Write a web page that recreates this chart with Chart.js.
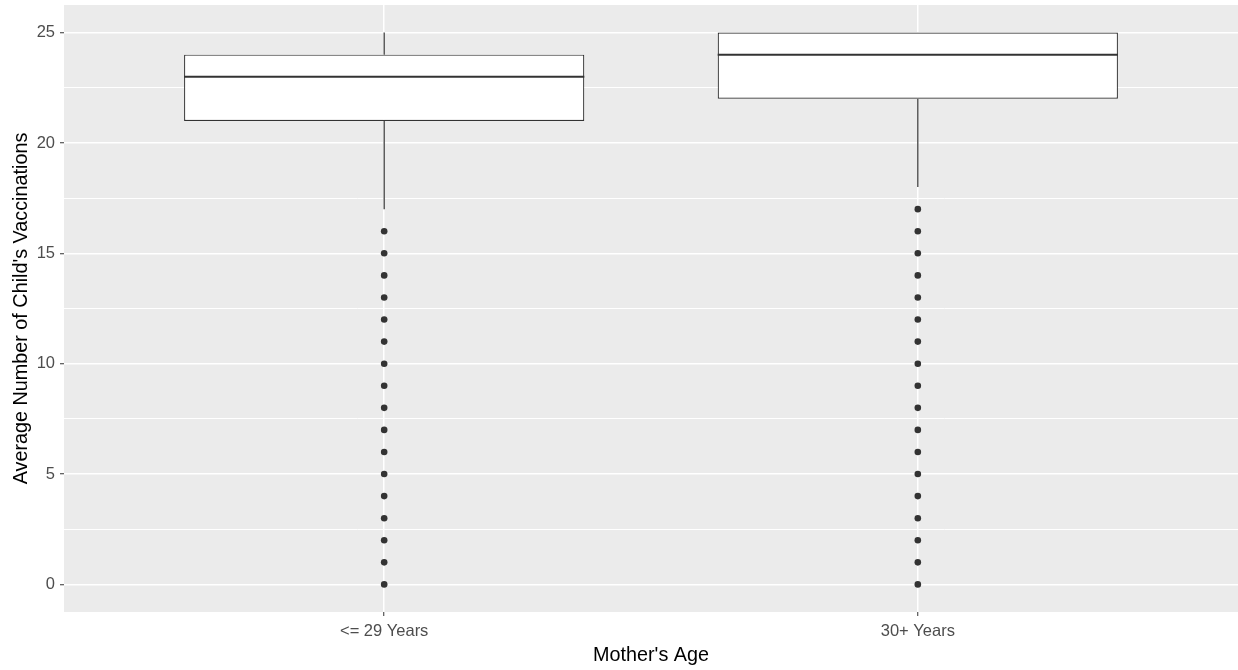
<!DOCTYPE html>
<html>
<head>
<meta charset="utf-8">
<script src="https://cdn.jsdelivr.net/npm/chart.js@4"></script>
<style>
  html, body { margin: 0; padding: 0; background: #ffffff; }
  #wrap { width: 1238px; height: 670px; }
</style>
</head>
<body>
<div id="wrap"><canvas id="boxChart" width="1238" height="670"></canvas></div>
<script>
// Data
const categories = ['<= 29 Years', '30+ Years'];
const q1 = [21, 22];
const median = [23, 24];
const q3 = [24, 25];
const whiskerLow = [17, 18];
const whiskerHigh = [25, 25];
const outliersYoung = [0, 1, 2, 3, 4, 5, 6, 7, 8, 9, 10, 11, 12, 13, 14, 15, 16];
const outliersOld = [0, 1, 2, 3, 4, 5, 6, 7, 8, 9, 10, 11, 12, 13, 14, 15, 16, 17];
const yTicks = [0, 2.5, 5, 7.5, 10, 12.5, 15, 17.5, 20, 22.5, 25];

const inkColor = '#333333';
const tickTextColor = '#4D4D4D';
const fontFamily = 'Liberation Sans, Arial, sans-serif';

// Grey panel background like ggplot
const panelBackground = {
    id: 'panelBackground',
    beforeDraw(chart) {
        const { ctx, chartArea } = chart;
        ctx.save();
        ctx.fillStyle = '#EBEBEB';
        ctx.fillRect(chartArea.left, chartArea.top, chartArea.right - chartArea.left, chartArea.bottom - chartArea.top);
        ctx.restore();
    }
};

// Median line across each box
const medianLines = {
    id: 'medianLines',
    afterDatasetsDraw(chart) {
        const meta = chart.getDatasetMeta(0);
        const yScale = chart.scales.y;
        const ctx = chart.ctx;
        ctx.save();
        ctx.strokeStyle = inkColor;
        ctx.lineWidth = 2;
        meta.data.forEach((bar, i) => {
            const y = yScale.getPixelForValue(median[i]);
            ctx.beginPath();
            ctx.moveTo(bar.x - bar.width / 2, y);
            ctx.lineTo(bar.x + bar.width / 2, y);
            ctx.stroke();
        });
        ctx.restore();
    }
};

let datasets = [];

// Boxes (Q1 to Q3)
datasets.push({
    type: 'bar',
    data: categories.map((c, i) => ({ x: i + 1, y: [q1[i], q3[i]] })),
    backgroundColor: '#ffffff',
    borderColor: inkColor,
    borderWidth: 1.2,
    borderSkipped: false,
    categoryPercentage: 1,
    barPercentage: 0.75,
    order: 2
});

// Whiskers
categories.forEach((c, i) => {
    if (whiskerHigh[i] > q3[i]) {
        datasets.push({
            type: 'line',
            data: [{ x: i + 1, y: q3[i] }, { x: i + 1, y: whiskerHigh[i] }],
            borderColor: inkColor, borderWidth: 1.2, pointRadius: 0, order: 3
        });
    }
    datasets.push({
        type: 'line',
        data: [{ x: i + 1, y: whiskerLow[i] }, { x: i + 1, y: q1[i] }],
        borderColor: inkColor, borderWidth: 1.2, pointRadius: 0, order: 3
    });
});

// Outlier points
[outliersYoung, outliersOld].forEach((vals, i) => {
    datasets.push({
        type: 'line',
        showLine: false,
        data: vals.map(v => ({ x: i + 1, y: v })),
        pointRadius: 3.3,
        pointBorderWidth: 0,
        pointBackgroundColor: inkColor,
        order: 1
    });
});

const config = {
    type: 'bar',
    data: { datasets: datasets },
    options: {
        responsive: false,
        animation: false,
        layout: { autoPadding: false, padding: { top: 5, right: 0, left: 0, bottom: 0 } },
        plugins: { legend: { display: false }, tooltip: { enabled: false } },
        scales: {
            x: {
                type: 'linear',
                min: 0.4,
                max: 2.6,
                offset: false,
                afterBuildTicks: scale => { scale.ticks = categories.map((c, i) => ({ value: i + 1 })); },
                afterFit: scale => { scale.height = 58; scale.paddingLeft = 0; scale.paddingRight = 0; },
                border: { display: false },
                grid: { offset: false, color: '#ffffff', lineWidth: 1.5, tickColor: inkColor, tickLength: 4, tickWidth: 1 },
                ticks: {
                    color: tickTextColor,
                    font: { family: fontFamily, size: 16.5 },
                    padding: 6,
                    maxRotation: 0,
                    callback: (v, idx) => categories[idx]
                },
                title: {
                    display: true,
                    text: "Mother's Age",
                    color: '#000000',
                    font: { family: fontFamily, size: 19.8 },
                    padding: { top: 0, bottom: 3 }
                }
            },
            y: {
                type: 'linear',
                min: -1.25,
                max: 26.25,
                afterBuildTicks: scale => { scale.ticks = yTicks.map(v => ({ value: v })); },
                afterFit: scale => { scale.width = 64; scale.paddingTop = 0; scale.paddingBottom = 0; },
                border: { display: false },
                grid: {
                    color: '#ffffff',
                    lineWidth: c => (c.tick && c.tick.value % 5 === 0) ? 1.5 : 1,
                    tickColor: c => (c.tick && c.tick.value % 5 === 0) ? inkColor : 'rgba(0,0,0,0)',
                    tickLength: 4,
                    tickWidth: 1
                },
                ticks: {
                    color: tickTextColor,
                    font: { family: fontFamily, size: 16.5 },
                    padding: 5,
                    callback: v => (v % 5 === 0 ? v : '')
                },
                title: {
                    display: true,
                    text: "Average Number of Child's Vaccinations",
                    color: '#000000',
                    font: { family: fontFamily, size: 19.8 },
                    padding: { top: 10, bottom: 0 }
                }
            }
        }
    },
    plugins: [panelBackground, medianLines]
};

new Chart(document.getElementById('boxChart').getContext('2d'), config);
</script>
</body>
</html>
